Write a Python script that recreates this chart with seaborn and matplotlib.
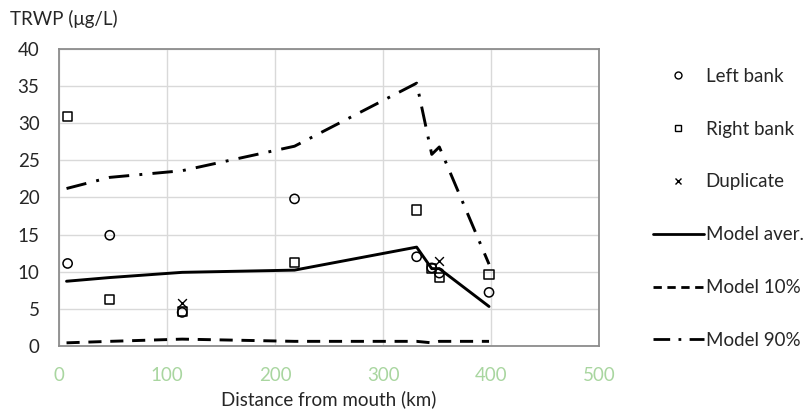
import numpy as np
import pandas as pd
import seaborn as sns
import matplotlib.pyplot as plt
from matplotlib.lines import Line2D

sns.set_theme(style='white')
plt.rcParams['font.family'] = ['Lato', 'DejaVu Sans']

# measured points (distance km, TRWP ug/L)
left_x = [8, 47, 114, 218, 331, 345, 352, 398]
left_y = [11.1, 14.9, 4.5, 19.8, 12.0, 10.5, 9.8, 7.2]
right_x = [8, 47, 114, 218, 331, 345, 352, 398]
right_y = [30.9, 6.2, 4.6, 11.2, 18.3, 10.4, 9.2, 9.6]
dup_x = [114, 352]
dup_y = [5.8, 11.4]

# model curves
model_x = [7, 47, 114, 218, 331, 345, 352, 398]
model_avg = [8.7, 9.2, 9.9, 10.2, 13.3, 10.4, 10.4, 5.3]
model_10 = [0.4, 0.6, 0.9, 0.6, 0.6, 0.4, 0.6, 0.6]
model_90 = [21.2, 22.7, 23.6, 26.9, 35.4, 25.8, 26.8, 11.0]

x_ticks = [0, 100, 200, 300, 400, 500]
y_ticks = [0, 5, 10, 15, 20, 25, 30, 35, 40]

fig = plt.figure(figsize=(8.1, 4.19), dpi=100)
ax = fig.add_axes([0.0728, 0.1747, 0.667, 0.7083])

models = pd.DataFrame({'x': model_x, 'avg': model_avg, 'p10': model_10, 'p90': model_90})
sns.lineplot(data=models, x='x', y='avg', color='black', lw=2.1, ax=ax)
sns.lineplot(data=models, x='x', y='p10', color='black', lw=2.1, ax=ax,
             linestyle=(0, (4.5, 3)))
sns.lineplot(data=models, x='x', y='p90', color='black', lw=2.1, ax=ax,
             linestyle=(0, (7, 3.5, 1, 3.5)))

sns.scatterplot(x=left_x, y=left_y, marker='o', s=44, facecolor='none',
                edgecolor='black', linewidth=1.1, ax=ax, zorder=3)
sns.scatterplot(x=right_x, y=right_y, marker='s', s=44, facecolor='none',
                edgecolor='black', linewidth=1.1, ax=ax, zorder=3)
sns.scatterplot(x=dup_x, y=dup_y, marker='x', s=40, color='black',
                linewidth=1.0, ax=ax, zorder=3)

ax.set_xlim(0, 500)
ax.set_ylim(0, 40)
ax.set_xticks(x_ticks)
ax.set_yticks(y_ticks)
ax.grid(True, color='#d9d9d9', lw=1.0)
ax.set_axisbelow(True)
for s in ax.spines.values():
    s.set_color('#8c8c8c')
    s.set_linewidth(1.3)
ax.tick_params(length=0, labelsize=13.5)
ax.tick_params(axis='x', pad=15)
ax.tick_params(axis='y', pad=14)
for t in ax.get_xticklabels():
    t.set_color('#a9d6a0')
ax.set_xlabel('Distance from mouth (km)', fontsize=13.5, labelpad=5)
ax.set_ylabel('')
fig.text(0.012, 0.955, 'TRWP (\u03bcg/L)', fontsize=13.5, va='center')

handles = [
    Line2D([], [], marker='o', ls='none', mfc='none', mec='black', ms=5, mew=1),
    Line2D([], [], marker='s', ls='none', mfc='none', mec='black', ms=5, mew=1),
    Line2D([], [], marker='x', ls='none', color='black', ms=5, mew=1),
    Line2D([], [], color='black', lw=2),
    Line2D([], [], color='black', lw=2, ls=(0, (3, 2))),
    Line2D([], [], color='black', lw=2, ls=(0, (6, 3, 1, 3))),
]
labels = ['Left bank', 'Right bank', 'Duplicate', 'Model aver.', 'Model 10%', 'Model 90%']
fig.legend(handles, labels, loc='upper left', bbox_to_anchor=(0.797, 0.856),
           frameon=False, fontsize=13.5, labelspacing=1.91, handlelength=2.7,
           handletextpad=0.1, borderaxespad=0)

fig.savefig('out.png', dpi=100)
